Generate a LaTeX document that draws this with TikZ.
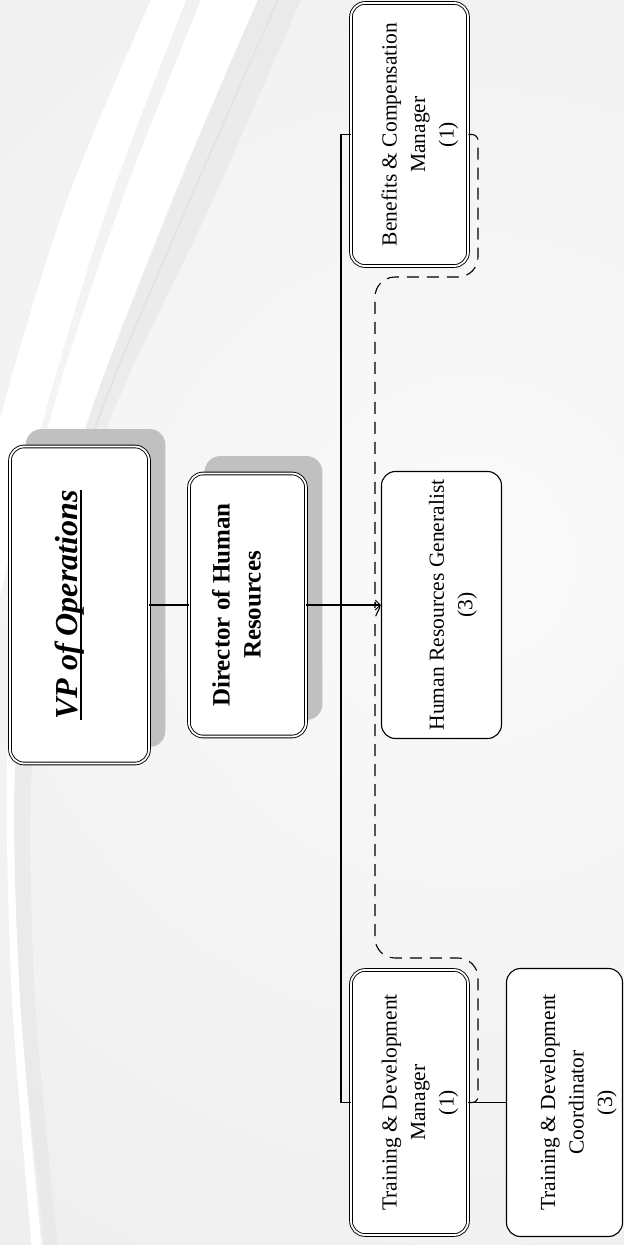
\documentclass[tikz,border=0pt]{standalone}
\usepackage{fontspec}
\setmainfont{Liberation Serif}
\usetikzlibrary{calc,arrows.meta}
\definecolor{bgbase}{HTML}{E8E8E8}
\definecolor{bglight}{HTML}{FAFAFA}
\definecolor{streak}{HTML}{E2E2E2}
\definecolor{shadowc}{HTML}{C0C0C0}
\pgfdeclarelayer{bg}
\pgfdeclarelayer{shadow}
\pgfsetlayers{bg,shadow,main}
\newcommand\ultext[1]{\setbox0\hbox{#1}\rlap{\usebox0}\raisebox{-4.5pt}{\rule{\wd0}{1.8pt}}}
\newcommand\rtab[1]{\rotatebox{90}{\begin{tabular}{@{}c@{}}#1\end{tabular}}}
\tikzset{
  dbox/.style={draw, double=white, double distance=1.8pt, line width=0.9pt, fill=white,
    rounded corners=14pt, inner sep=0pt},
  sbox/.style={draw, line width=1.1pt, fill=white, rounded corners=14pt, inner sep=0pt},
  shadowbox/.style={fill=shadowc, rounded corners=16pt},
  conn/.style={line width=1.1pt},
  dashline/.style={line width=1.1pt, dash pattern=on 12pt off 8pt},
}
\begin{document}
\begin{tikzpicture}[x=1pt,y=-1pt]
\useasboundingbox (0,0) rectangle (624,1245);
\begin{pgfonlayer}{bg}
\clip (0,0) rectangle (624,1245);
\fill[bgbase] (0,0) rectangle (624,1245);
\shade[inner color=bglight, outer color=bgbase] (470,560) circle (1300);
% swoosh streaks
\fill[streak, opacity=0.45] plot[smooth] coordinates {(258,-5)(173,200)(88,420)(40,600)(15,770)(20,1000)(45,1250)}
  -- plot[smooth] coordinates {(58,1250)(35,1000)(32,770)(60,600)(110,420)(213,200)(303,-5)} -- cycle;
\draw[streak, line width=1.5pt] plot[smooth] coordinates {(280,-5)(190,200)(98,420)(50,600)};
\fill[white] plot[smooth] coordinates {(153,-5)(67,200)(0,420)(-40,620)}
  -- plot[smooth] coordinates {(-10,640)(43,420)(110,200)(188,-5)} -- cycle;
\fill[white] plot[smooth] coordinates {(203,-5)(122,200)(50,420)(20,600)(7,770)(12,1000)(32,1250)}
  -- plot[smooth] coordinates {(42,1250)(20,1000)(15,770)(40,600)(88,420)(172,200)(260,-5)} -- cycle;
\end{pgfonlayer}

% boxes
\node[dbox, minimum width=139pt, minimum height=317pt] (vp) at (79.5,605)
  {{\fontsize{32}{38}\selectfont\bfseries\itshape\rtab{\ultext{VP of Operations}}}\hspace*{19pt}};
\node[dbox, minimum width=117pt, minimum height=263pt] (dir) at (247.5,605)
  {{\fontsize{25}{31}\selectfont\bfseries\rtab{Director of Human\\Resources}}\hspace*{17pt}};
\node[sbox, minimum width=120pt, minimum height=267pt] (hrg) at (441.5,605)
  {\hspace*{22pt}{\fontsize{21.5}{28.5}\selectfont\rtab{Human Resources Generalist\\(3)}}};
\node[dbox, minimum width=117pt, minimum height=263pt] (bcm) at (409.5,134.5)
  {\hspace*{20pt}{\fontsize{21.5}{28.5}\selectfont\rtab{Benefits \& Compensation\\Manager\\(1)}}};
\node[dbox, minimum width=117pt, minimum height=265pt] (tdm) at (409.5,1102.5)
  {\hspace*{20pt}{\fontsize{21.5}{28.5}\selectfont\rtab{Training \& Development\\Manager\\(1)}}};
\node[sbox, minimum width=116pt, minimum height=268pt] (tdc) at (564.5,1102.5)
  {\hspace*{27pt}{\fontsize{21.5}{28.5}\selectfont\rtab{Training \& Development\\Coordinator\\(3)}}};

\begin{pgfonlayer}{shadow}
\fill[shadowbox] ($(vp.south west)+(16,-17)$) rectangle ($(vp.north east)+(16,-17)$);
\fill[shadowbox] ($(dir.south west)+(16,-17)$) rectangle ($(dir.north east)+(16,-17)$);
\end{pgfonlayer}

% connectors
\coordinate (bus) at (341,605);
\draw[conn] (vp.east) -- (dir.west);
\draw[conn] (bcm.west) -| (bus) |- (tdm.west);
\draw[conn, -{Straight Barb[length=5pt,width=10pt,line width=1pt]}] (dir.east) -- (hrg.west);
\draw[conn] (tdm.east) -- (tdc.west);

% dotted-line relationship
\draw[dashline] (bcm.east) [rounded corners=6pt] -- (478,134.5) -- (478,200)
  [rounded corners=20pt] -- (478,277) -- (375,277) -- (375,588)
  [sharp corners] .. controls (375,598) and (380,599) .. (380,605)
  .. controls (380,611) and (375,612) .. (375,622)
  [rounded corners=20pt] -- (375,958) -- (478,958) -- (478,1040)
  [rounded corners=6pt] -- (478,1102.5) -- (tdm.east);
\end{tikzpicture}
\end{document}
